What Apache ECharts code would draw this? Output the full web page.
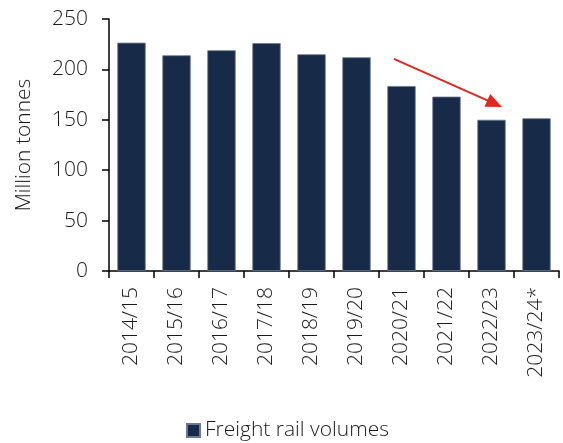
<!DOCTYPE html>
<html><head><meta charset="utf-8">
<script src="https://cdn.jsdelivr.net/npm/echarts@6/dist/echarts.min.js"></script>
<style>html,body{margin:0;padding:0;background:#fff}#c{width:563px;height:443px}</style>
</head><body><div id="c"></div>
<script>
const categories = ['2014/15','2015/16','2016/17','2017/18','2018/19','2019/20','2020/21','2021/22','2022/23','2023/24*'];
const volumes = [226.5, 214, 219, 226, 215, 212, 183.5, 173, 150, 151.5];
const yTicks = [0, 50, 100, 150, 200, 250];
// arrow endpoints on a continuous [0,10] overlay of the category axis
const arrowStart = [6.33, 210.5];
const arrowEnd = [8.57, 166];

const FONT = 'Open Sans';
const FW = 300;
const FS = 21;
const TXT = '#1a1a1a';
const chart = echarts.init(document.getElementById('c'), null, {renderer:'canvas'});
chart.setOption({
  animation: false,
  grid: {left:109, right:4, top:19, bottom:172},
  legend: {
    top: 415, left: 181, itemWidth: 13, itemHeight: 13, itemGap: 7,
    icon: 'rect',
    textStyle: {fontFamily: FONT, fontWeight: FW, fontSize: FS, color:TXT},
    data: ['Freight rail volumes']
  },
  xAxis: [{
    type:'category', data: categories,
    axisLine:{lineStyle:{color:'#000', width:1.5}},
    axisTick:{show:true, length:7, lineStyle:{color:'#000', width:1.5}},
    axisLabel:{rotate:90, fontFamily:FONT, fontWeight:FW, fontSize:FS, color:TXT, margin:16, interval:0}
  }, {
    type:'value', min:0, max:categories.length, show:false
  }],
  yAxis: {
    type:'value', min: yTicks[0], max: yTicks[yTicks.length-1], interval: 50,
    name:'Million tonnes', nameLocation:'middle', nameGap:74,
    nameTextStyle:{fontFamily:FONT, fontWeight:FW, fontSize:FS, color:TXT},
    axisLine:{show:true, lineStyle:{color:'#000', width:1.5}},
    axisTick:{show:true, length:7, lineStyle:{color:'#000', width:1.5}},
    splitLine:{show:false},
    axisLabel:{fontFamily:FONT, fontWeight:FW, fontSize:FS, color:TXT, margin:21}
  },
  series: [{
    name:'Freight rail volumes', type:'bar', data: volumes,
    barCategoryGap:'37%',
    itemStyle:{color:'#172a47', borderColor:'#6b7a93', borderWidth:0.8}
  }, {
    name:'arrow', type:'line', xAxisIndex:1, data:[], silent:true,
    markLine: {
      silent:true, symbol:['none','triangle'], symbolSize:[14,16],
      label:{show:false},
      lineStyle:{color:'#e0281e', width:2, type:'solid'},
      data:[[{coord: arrowStart}, {coord: arrowEnd}]]
    }
  }]
});
</script></body></html>
